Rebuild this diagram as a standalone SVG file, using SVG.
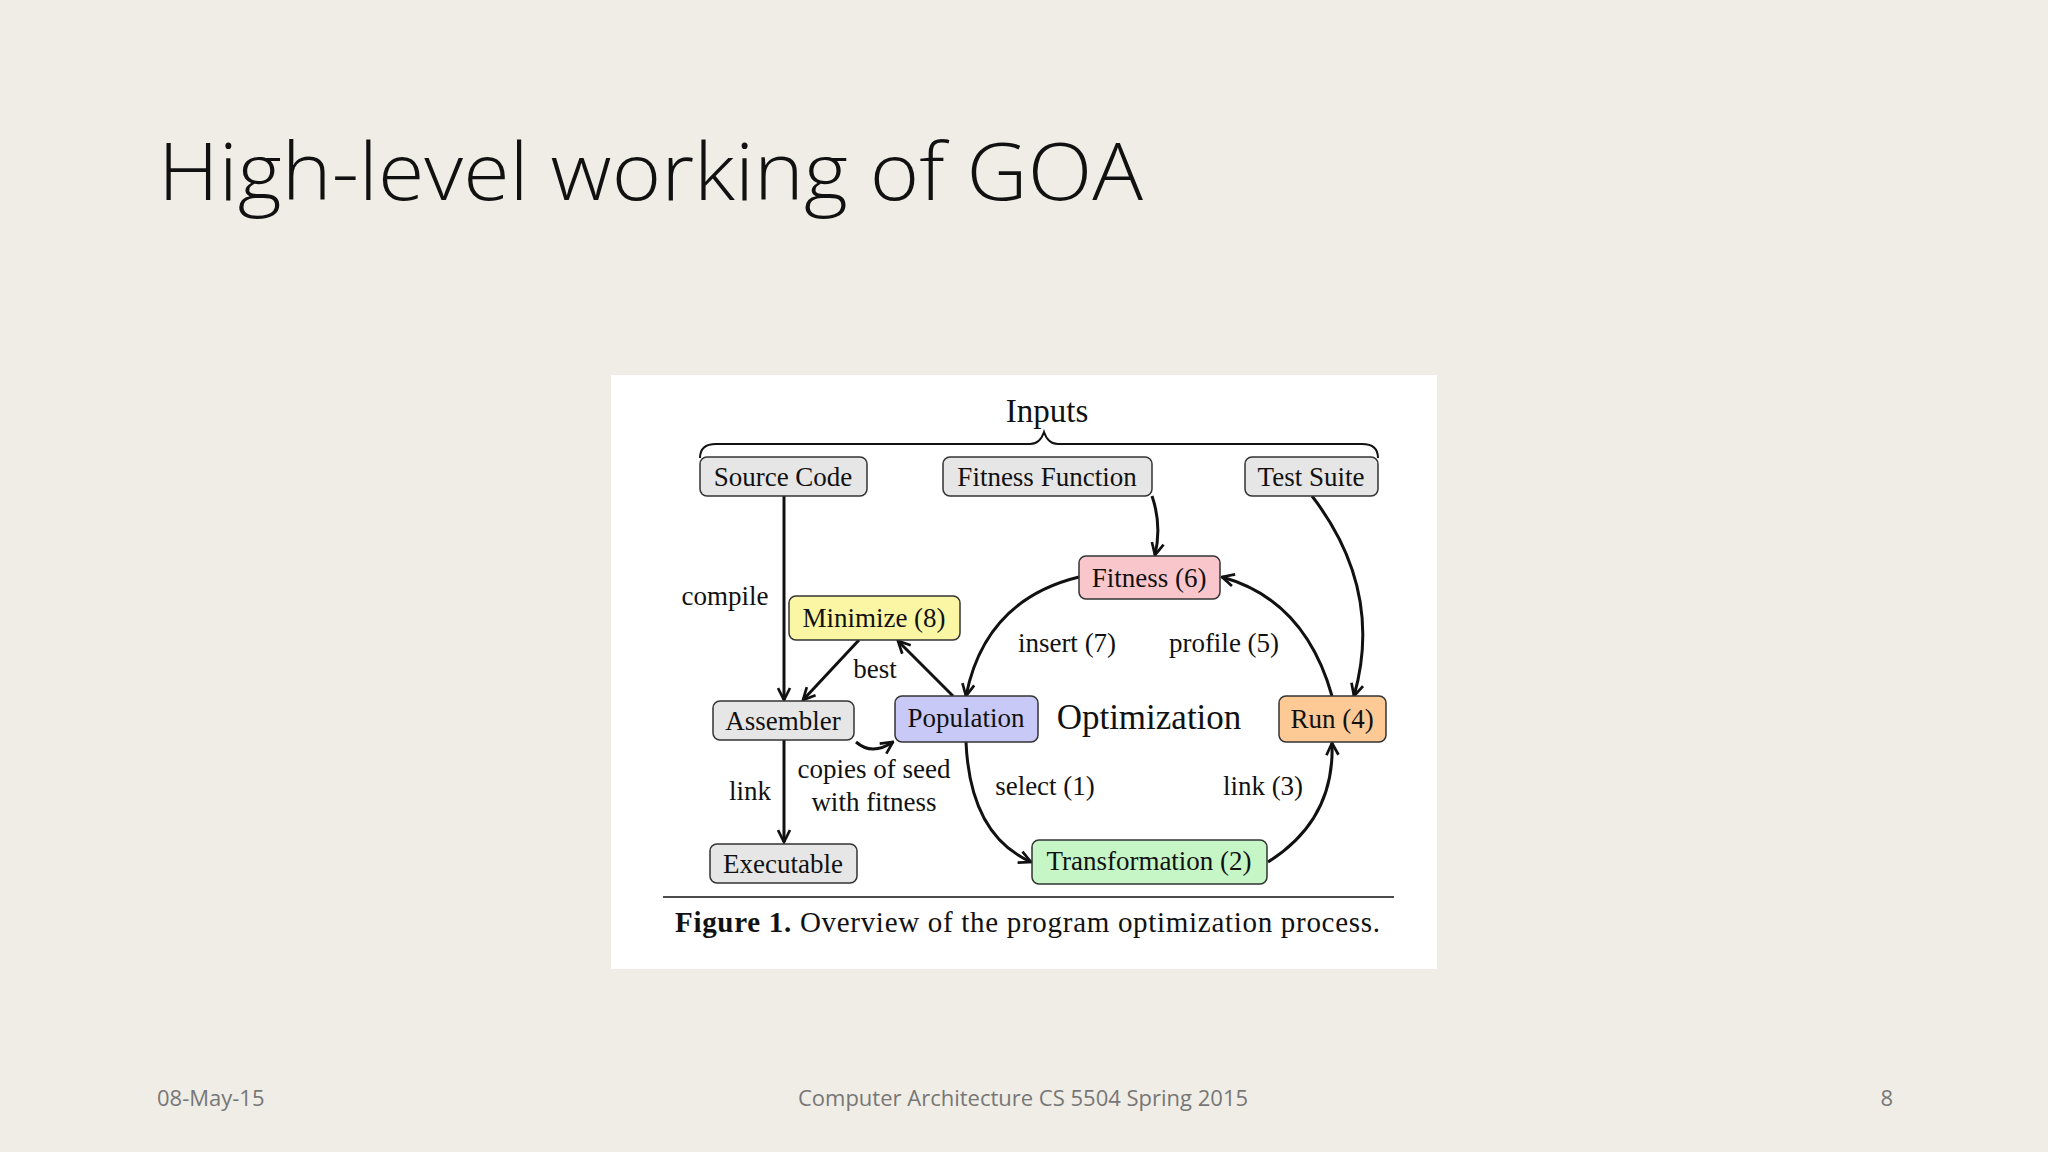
<svg xmlns="http://www.w3.org/2000/svg" width="2048" height="1152" viewBox="0 0 2048 1152">
<style>
.n{stroke:#333;stroke-width:1.5}
.t{font-family:"Liberation Serif",serif;font-size:27px;fill:#111;text-anchor:middle}
.e{fill:none;stroke:#111;stroke-width:3;marker-end:url(#a)}
.f{font-family:"Open Sans","Noto Sans",sans-serif;fill:#777;font-size:22px}
</style>
<defs><marker id="a" viewBox="0 0 10 10" refX="9" refY="5" markerWidth="5" markerHeight="5" orient="auto"><path d="M1,1 L9,5 L1,9" fill="none" stroke="#111" stroke-width="1.8"/></marker></defs>
<rect width="2048" height="1152" fill="#efede6"/>
<text x="158" y="200" font-family="'Open Sans','Noto Sans',sans-serif" font-size="80" fill="#111" font-weight="300" textLength="985" lengthAdjust="spacingAndGlyphs">High-level working of GOA</text>
<rect x="611" y="375" width="826" height="594" fill="#fff"/>
<text class="t" x="1047" y="422" style="font-size:33px">Inputs</text>
<path d="M700,458 Q700,444 716,444 L1030,444 Q1040,444 1044,432 Q1048,444 1058,444 L1362,444 Q1378,444 1378,458" fill="none" stroke="#111" stroke-width="2"/>
<g id="edges">
<path class="e" d="M784,496 L784,700"/>
<path class="e" d="M784,740 L784,842"/>
<path class="e" d="M859,640 L803,700"/>
<path class="e" d="M953,696 L898,641"/>
<path class="e" d="M856,742 Q872,756 893,742"/>
<path class="e" d="M1079,577 Q985,600 966,696"/>
<path class="e" d="M1332,696 Q1305,600 1222,577"/>
<path class="e" d="M1312,496 Q1384,590 1354,696"/>
<path class="e" d="M1152,496 Q1162,525 1155,555"/>
<path class="e" d="M966,742 Q970,835 1031,862"/>
<path class="e" d="M1268,862 Q1335,820 1332,743"/>
</g>
<g class="t">
<text x="725" y="605">compile</text>
<text x="750" y="800">link</text>
<text x="875" y="678">best</text>
<text x="874" y="778">copies of seed</text>
<text x="874" y="811">with fitness</text>
<text x="1067" y="652">insert (7)</text>
<text x="1224" y="652">profile (5)</text>
<text x="1045" y="795">select (1)</text>
<text x="1263" y="795">link (3)</text>
<text x="1149" y="729" style="font-size:35px">Optimization</text>
</g>
<g id="source"><rect class="n" x="700" y="457" width="167" height="39" rx="7" fill="#e6e6e6"/><text class="t" x="783" y="486">Source Code</text></g>
<g id="fitfun"><rect class="n" x="943" y="457" width="209" height="39" rx="7" fill="#e6e6e6"/><text class="t" x="1047" y="486">Fitness Function</text></g>
<g id="tests"><rect class="n" x="1245" y="457" width="133" height="39" rx="7" fill="#e6e6e6"/><text class="t" x="1311" y="486">Test Suite</text></g>
<g id="fitness"><rect class="n" x="1079" y="556" width="141" height="43" rx="7" fill="#f9c6cc"/><text class="t" x="1149" y="587">Fitness (6)</text></g>
<g id="minimize"><rect class="n" x="789" y="596" width="171" height="44" rx="7" fill="#fbf6a4"/><text class="t" x="874" y="627">Minimize (8)</text></g>
<g id="assembler"><rect class="n" x="713" y="701" width="141" height="39" rx="7" fill="#e6e6e6"/><text class="t" x="783" y="730">Assembler</text></g>
<g id="population"><rect class="n" x="895" y="696" width="143" height="46" rx="7" fill="#c9c9f7"/><text class="t" x="966" y="727">Population</text></g>
<g id="run"><rect class="n" x="1279" y="696" width="107" height="46" rx="7" fill="#fdc995"/><text class="t" x="1332" y="728">Run (4)</text></g>
<g id="executable"><rect class="n" x="710" y="844" width="147" height="39" rx="7" fill="#e6e6e6"/><text class="t" x="783" y="873">Executable</text></g>
<g id="transform"><rect class="n" x="1032" y="840" width="235" height="44" rx="7" fill="#c6f6c6"/><text class="t" x="1149" y="870">Transformation (2)</text></g>
<line x1="663" y1="897" x2="1394" y2="897" stroke="#111" stroke-width="1.5"/>
<text x="675" y="932" font-family="'Liberation Serif',serif" font-size="29" fill="#111" textLength="705"><tspan font-weight="bold">Figure 1.</tspan>  Overview of the program optimization process.</text>
<text class="f" x="157" y="1106">08-May-15</text>
<text class="f" x="1023" y="1106" text-anchor="middle">Computer Architecture CS 5504 Spring 2015</text>
<text class="f" x="1893" y="1106" text-anchor="end">8</text>
</svg>
